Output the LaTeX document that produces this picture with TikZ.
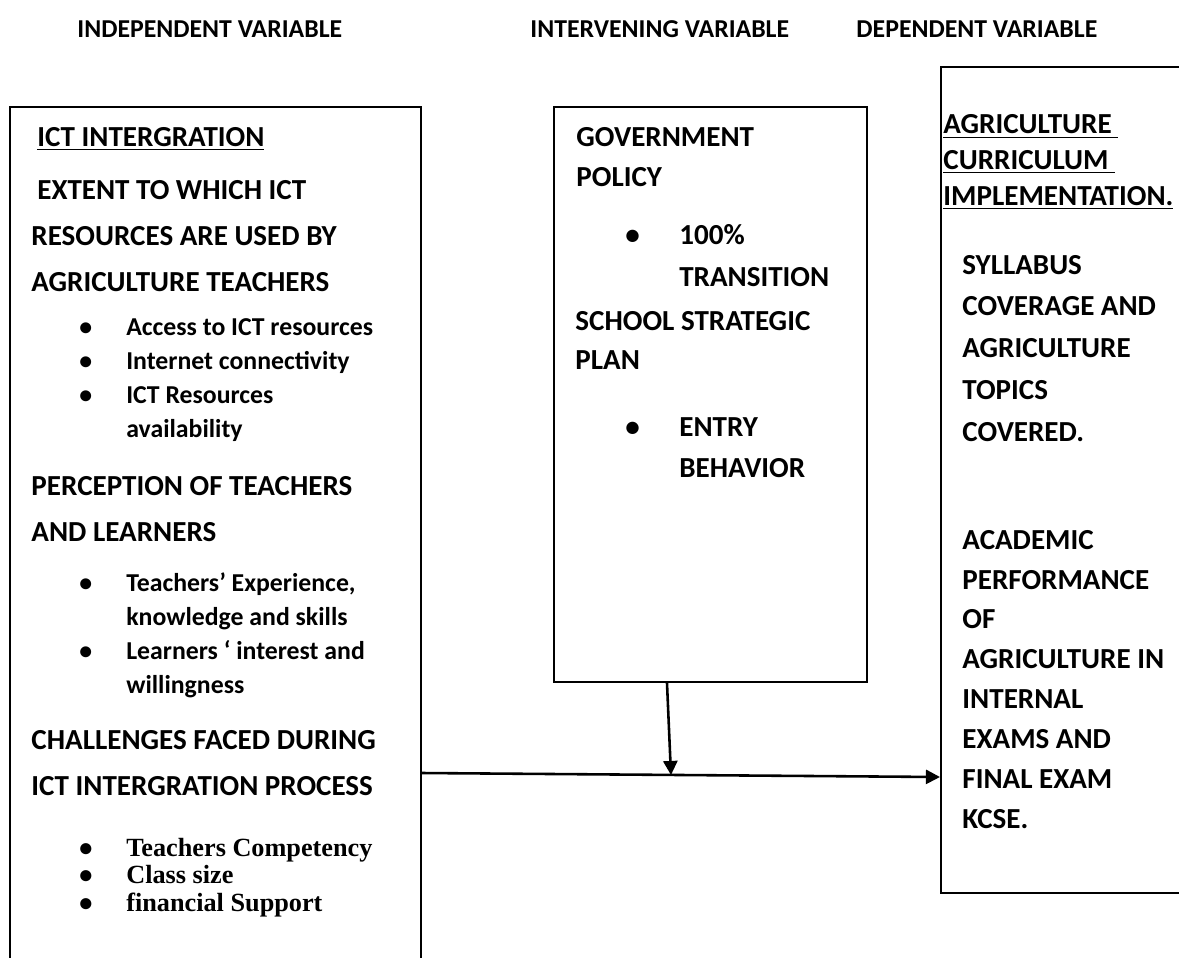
\documentclass[tikz,border=0pt]{standalone}
\usepackage{fontspec}
\setmainfont{Carlito}
\newfontfamily\timesfont{Liberation Serif}
\usetikzlibrary{arrows.meta,positioning,fit}

% bullet with a fixed hanging width
\newcommand{\bul}[1][20pt]{\makebox[#1][l]{\normalfont\bfseries\textbullet}}

\begin{document}
\begin{tikzpicture}[x=0.015cm, y=-0.015cm,
    frame/.style={draw, line width=0.85pt, inner sep=0pt},
    colhead/.style={anchor=base west, inner sep=0pt, font=\fontsize{11}{13}\selectfont\bfseries},
    % base anchor = baseline of the last line
    lines/.style={anchor=base west, inner sep=0pt, align=left,
                  font=\fontsize{12.4}{#1}\selectfont\bfseries},
    items/.style={anchor=base west, inner sep=0pt, align=left,
                  font=\fontsize{11}{#1}\selectfont\bfseries},
    flow/.style={-{Triangle[length=6pt,width=6pt]}, line width=1.1pt}]
  \useasboundingbox (0,0) rectangle (1179,957);
  \clip (0,0) rectangle (1179,957);

  % column titles
  \node[colhead] (th1) at (77,37) {INDEPENDENT VARIABLE};
  \node[colhead] (th2) at (530,37) {INTERVENING VARIABLE};
  \node[colhead] (th3) at (856,37) {DEPENDENT VARIABLE};

  % the three boxes
  \node[frame, fit={(10,107) (421,1000)}] (indep) {};
  \node[frame, fit={(554,107) (867,682)}] (interv) {};
  \node[frame, fit={(941,67) (1200,893)}] (dep) {};

  % independent variable
  \node[lines=18] (ict) at (37,146) {\underline{ICT INTERGRATION}};
  \node[lines=19.6] (extent) at (31,291)
    {\hspace*{2.5pt}EXTENT TO WHICH ICT\\ RESOURCES ARE USED BY\\ AGRICULTURE TEACHERS};
  \node[items=14.5] (access) at (79,437)
    {\bul Access to ICT resources\\ \bul Internet connectivity\\
     \bul ICT Resources\\ \hspace*{20pt}availability};
  \node[lines=19.3] (percep) at (31,541) {PERCEPTION OF TEACHERS\\ AND LEARNERS};
  \node[items=14.5] (exper) at (79,693)
    {\bul Teachers’ Experience,\\ \hspace*{20pt}knowledge and skills\\
     \bul Learners ‘ interest and\\ \hspace*{20pt}willingness};
  \node[lines=19.6] (chall) at (31,795) {CHALLENGES FACED DURING\\ ICT INTERGRATION PROCESS};
  \node[items=11.6, font=\fontsize{11.2}{11.6}\selectfont\timesfont\bfseries] (compet) at (79,911)
    {\bul Teachers Competency\\ \bul Class size\\ \bul financial Support};

  % intervening variable
  \node[lines=17] (policy) at (576,186) {GOVERNMENT\\ POLICY};
  \node[lines=17.8] (trans) at (625,286) {\bul[23pt]100\%\\ \hspace*{23pt}TRANSITION};
  \node[lines=16.3] (plan) at (575,369) {SCHOOL STRATEGIC\\ PLAN};
  \node[lines=17.5] (entry) at (625,477) {\bul[23pt]ENTRY\\ \hspace*{23pt}BEHAVIOR};

  % dependent variable
  \node[lines=15.2] (curric) at (943,205)
    {\underline{AGRICULTURE\ }\\ \underline{CURRICULUM\ }\\ \underline{IMPLEMENTATION.}};
  \node[lines=17.8] (syll) at (962,441)
    {SYLLABUS\\ COVERAGE AND\\ AGRICULTURE\\ TOPICS\\ COVERED.};
  \node[lines=17] (perf) at (962,828)
    {ACADEMIC\\ PERFORMANCE\\ OF\\ AGRICULTURE IN\\ INTERNAL\\ EXAMS AND\\ FINAL EXAM\\ KCSE.};

  % arrows
  \coordinate (meet) at (671,775);
  \draw[flow] (indep.east |- 0,773) -- (dep.west |- 0,777);
  \draw[flow] (interv.south -| 667,0) -- (meet);
\end{tikzpicture}
\end{document}
